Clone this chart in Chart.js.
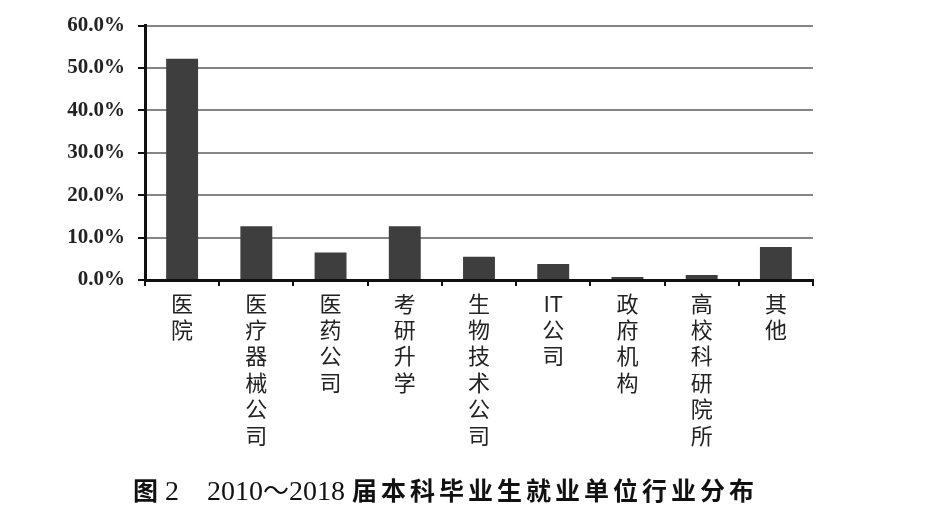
<!DOCTYPE html>
<html><head><meta charset="utf-8">
<script src="https://cdn.jsdelivr.net/npm/chart.js@4.4.1/dist/chart.umd.min.js"></script>
<style>
html,body{margin:0;padding:0;background:#fff;}
#wrap{position:relative;width:945px;height:511px;}
#caption{position:absolute;left:133px;top:474px;white-space:nowrap;font-size:25px;color:#111;line-height:30px;}
#caption .b{font-family:"Noto Sans CJK SC","Noto Sans CJK TC",sans-serif;font-weight:bold;}
#caption .s{font-family:"Liberation Serif","DejaVu Serif",serif;font-weight:normal;font-size:28px;}
#caption .t{font-family:"Noto Sans CJK SC",sans-serif;font-weight:normal;font-size:26px;}
#caption .cjk{letter-spacing:4px;}
</style></head>
<body><div id="wrap"><canvas id="c" width="945" height="511"></canvas>
<div id="caption"><span class="b">图</span><span class="s"> 2&nbsp;&nbsp;&nbsp;&nbsp;2010</span><span class="t">～</span><span class="s">2018 </span><span class="b cjk">届本科毕业生就业单位行业分布</span></div></div>
<script>
const categories = [
  ["医","院"],
  ["医","疗","器","械","公","司"],
  ["医","药","公","司"],
  ["考","研","升","学"],
  ["生","物","技","术","公","司"],
  ["IT","公","司"],
  ["政","府","机","构"],
  ["高","校","科","研","院","所"],
  ["其","他"]
];
const shares = [52.2, 12.7, 6.5, 12.7, 5.5, 3.8, 0.7, 1.2, 7.8];
const yTicks = [0, 10, 20, 30, 40, 50, 60];

new Chart(document.getElementById('c'), {
  type: 'bar',
  data: {
    labels: categories,
    datasets: [{
      data: shares,
      backgroundColor: '#3e3e3e',
      borderWidth: 0,
      categoryPercentage: 1,
      barPercentage: 0.43
    }]
  },
  options: {
    responsive: false,
    animation: false,
    devicePixelRatio: 1,
    layout: { padding: { left: 0, right: 132, top: 24, bottom: 0 } },
    plugins: { legend: { display: false }, tooltip: { enabled: false } },
    scales: {
      x: {
        grid: { offset: true, drawOnChartArea: false, drawTicks: true, tickLength: 6, tickColor: '#111', lineWidth: 2 },
        border: { display: true, color: '#111', width: 3 },
        ticks: {
          color: '#222',
          maxRotation: 0, minRotation: 0, autoSkip: false,
          padding: 4,
          font: { family: '"Noto Sans CJK SC","Noto Sans CJK TC",sans-serif', size: 22, lineHeight: 1.2 }
        },
        afterFit(s) { s.height = 231; }
      },
      y: {
        min: 0, max: 60,
        afterBuildTicks(s) { s.ticks = yTicks.map(v => ({ value: v })); },
        grid: { color: '#858585', lineWidth: 2, drawTicks: true, tickLength: 7, tickColor: '#111' },
        border: { display: true, color: '#111', width: 3 },
        ticks: {
          color: '#222',
          padding: 13,
          callback: v => v.toFixed(1) + '%',
          font: { family: '"Liberation Serif","Times New Roman",serif', size: 21, weight: 'bold' }
        },
        afterFit(s) { s.width = 145; }
      }
    }
  }
});
</script></body></html>
